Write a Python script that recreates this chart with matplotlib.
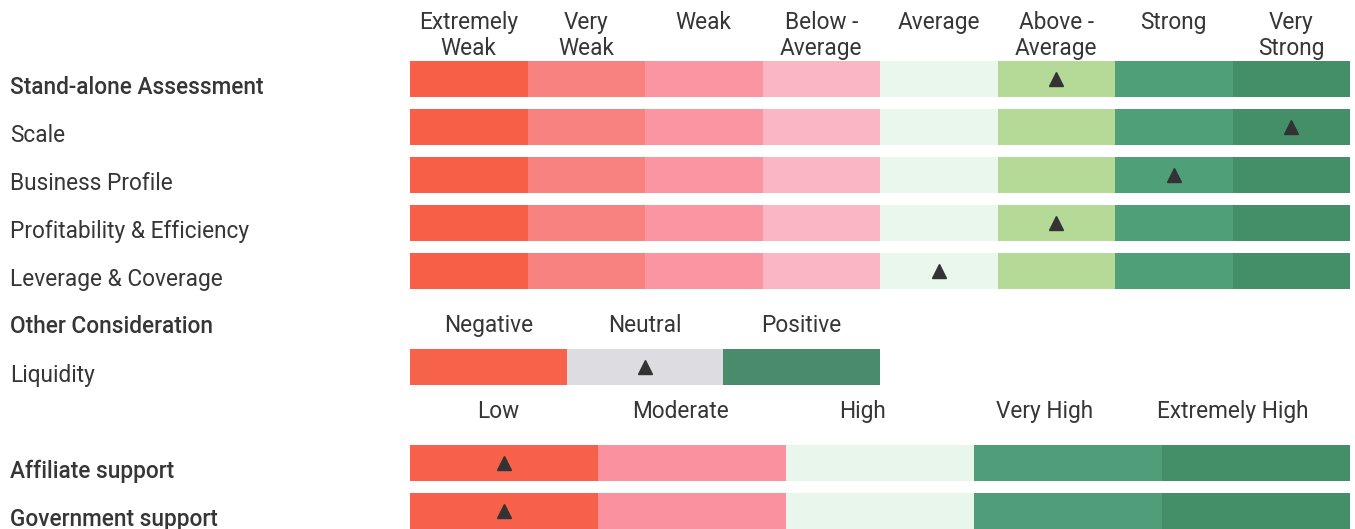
import matplotlib.pyplot as plt
from matplotlib import transforms

# rating grid for the stand-alone assessment
levels8 = ["Extremely\nWeak", "Very\nWeak", "Weak", "Below -\nAverage",
           "Average", "Above -\nAverage", "Strong", "Very\nStrong"]
colors8 = ["#F85F47", "#F88280", "#FA96A1", "#FAB7C3",
           "#EAF7EC", "#B5D997", "#4F9F78", "#458F68"]
rows8 = ["Stand-alone Assessment", "Scale", "Business Profile",
         "Profitability & Efficiency", "Leverage & Coverage"]
scores8 = [5, 7, 6, 5, 4]

# other consideration
levels3 = ["Negative", "Neutral", "Positive"]
colors3 = ["#F7624A", "#DCDCE1", "#498B6A"]
rows3 = ["Liquidity"]
scores3 = [1]

# support
levels5 = ["Low", "Moderate", "High", "Very High", "Extremely High"]
colors5 = ["#F7604A", "#F9929E", "#E8F6EB", "#4F9E79", "#458F68"]
rows5 = ["Affiliate support", "Government support"]
scores5 = [0, 0]

bold_rows = ["Stand-alone Assessment", "Affiliate support", "Government support"]

plt.rcParams['font.family'] = ['Roboto', 'DejaVu Sans']
TXT = "#363636"
FS = 16.3

fig = plt.figure(figsize=(13.55, 5.29), dpi=100)
ax = fig.add_axes([410 / 1355, 0, 940 / 1355, 1])
ax.set_xlim(0, 8)
ax.set_ylim(9.375, -1.646)
ax.axis("off")
lab = transforms.blended_transform_factory(fig.transFigure, ax.transData)


def draw_block(levels, colors, rows, scores, y0, span, head_y, head_shift=0.0):
    seg = span / len(levels)
    for k, (name, score) in enumerate(zip(rows, scores)):
        y = y0 + k
        ax.barh([y] * len(levels), [seg] * len(levels),
                left=[i * seg for i in range(len(levels))],
                height=0.76, color=colors, linewidth=0)
        ax.plot((score + 0.5) * seg, y, marker="^", color="#333333",
                markersize=10, linestyle="none")
        ax.text(10 / 1355, y + 0.31, name, transform=lab, fontsize=FS,
                color=TXT, va="baseline",
                fontweight="medium" if name in bold_rows else "normal")
    for i, lev in enumerate(levels):
        for j, line in enumerate(lev.split("\n")):
            ax.text((i + 0.5) * seg + head_shift * (1 + min(i, 3)),
                    head_y + 0.54 * j, line,
                    fontsize=FS, color=TXT, ha="center", va="baseline")


draw_block(levels8, colors8, rows8, scores8, 0, 8, -1.04)
ax.text(10 / 1355, 5.29, "Other Consideration", transform=lab, fontsize=FS,
        color=TXT, va="baseline", fontweight="medium")
draw_block(levels3, colors3, rows3, scores3, 6, 4, 5.27)
draw_block(levels5, colors5, rows5, scores5, 8, 8, 7.06, head_shift=-0.05)

fig.savefig("out.png", dpi=100)
